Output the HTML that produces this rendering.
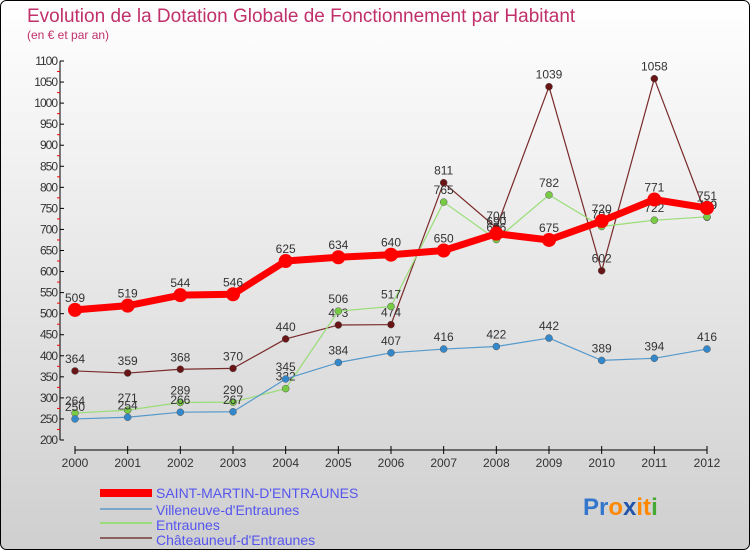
<!DOCTYPE html>
<html><head><meta charset="utf-8"><style>
html,body{margin:0;padding:0;width:750px;height:550px;overflow:hidden;font-family:"Liberation Sans",sans-serif}
</style></head><body>
<svg id="c" width="750" height="550" xmlns="http://www.w3.org/2000/svg">
<defs><linearGradient id="bg" x1="0" y1="0" x2="0" y2="1"><stop offset="0" stop-color="#ffffff"/><stop offset="1" stop-color="#cfcfcf"/></linearGradient></defs>
<rect x="0.5" y="0.5" width="749" height="549" rx="6" fill="url(#bg)" stroke="#000"/>
<text x="27" y="22" font-size="19" fill="#c0306a">Evolution de la Dotation Globale de Fonctionnement par Habitant</text>
<text x="27" y="39" font-size="12" fill="#c0306a">(en € et par an)</text>
<g id="axes"></g><g id="series"></g>
<g>
<rect x="100" y="489" width="52" height="8" fill="#f00"/>
<text x="156" y="498" font-size="14" fill="#5555ee">SAINT-MARTIN-D'ENTRAUNES</text>
<rect x="100" y="508" width="52" height="2" fill="#7aa6cc"/>
<text x="156" y="515" font-size="14" fill="#5555ee">Villeneuve-d'Entraunes</text>
<rect x="100" y="522" width="52" height="2" fill="#99dd77"/>
<text x="156" y="530" font-size="14" fill="#5555ee">Entraunes</text>
<rect x="100" y="537" width="52" height="2" fill="#8b6060"/>
<text x="156" y="545" font-size="14" fill="#5555ee">Châteauneuf-d'Entraunes</text>
</g>
<text x="583" y="515" font-size="24" font-weight="bold"><tspan fill="#3377cc">Pr</tspan><tspan fill="#ff8800">o</tspan><tspan fill="#2255aa">x</tspan><tspan fill="#ff8800">it</tspan><tspan fill="#44aa33">i</tspan></text>
</svg>
<script>
const years=[2000,2001,2002,2003,2004,2005,2006,2007,2008,2009,2010,2011,2012];
const yTicks=[200,250,300,350,400,450,500,550,600,650,700,750,800,850,900,950,1000,1050,1100];
const saintMartin=[509,519,544,546,625,634,640,650,690,675,720,771,751];
const villeneuve=[250,254,266,267,345,384,407,416,422,442,389,394,416];
const entraunes=[264,271,289,290,322,506,517,765,676,782,707,722,730];
const chateauneuf=[364,359,368,370,440,473,474,811,704,1039,602,1058,729];
const NS="http://www.w3.org/2000/svg";
const X=i=>75+i*(707-75)/(years.length-1);
const Y=v=>440-(v-200)*(379/900);
function mk(t,a,p){const e=document.createElementNS(NS,t);for(const k in a)e.setAttribute(k,a[k]);p.appendChild(e);return e;}
const ax=document.getElementById('axes'),sg=document.getElementById('series');
let l=mk('line',{x1:60,y1:Y(1100),x2:60,y2:440,stroke:'#000'},ax);


yTicks.forEach((v,i)=>{
 mk('line',{x1:60,x2:64,y1:Y(v),y2:Y(v),stroke:'#000'},ax);
 if(i<yTicks.length-1)mk('line',{x1:57,x2:60,y1:Y(v+25),y2:Y(v+25),stroke:'#f00'},ax);
 const t=mk('text',{x:57,y:Y(v)+4,'font-size':12,'text-anchor':'end',fill:'#333','letter-spacing':'-1'},ax);t.textContent=v;
 
 
});
l=mk('line',{x1:75,y1:450,x2:707,y2:450,stroke:'#000'},ax);


years.forEach((y,i)=>{
 mk('line',{x1:X(i),x2:X(i),y1:446,y2:454,stroke:'#000'},ax);
 const t=mk('text',{x:X(i),y:467,'font-size':12,'text-anchor':'middle',fill:'#333'},ax);t.textContent=y;
 
 
});
function draw(vals,name,color,w,r,dot){
 const g=mk('g',{},sg);
 
 
 const pl=mk('polyline',{points:vals.map((v,i)=>X(i)+','+Y(v)).join(' '),fill:'none',stroke:color,'stroke-width':w,'stroke-linejoin':'round'},g);
 
 
 vals.forEach((v,i)=>{
  const c=mk('circle',{cx:X(i),cy:Y(v),r:r,fill:dot,stroke:w>3?'none':'#555','stroke-width':0.5},g);
  
  
  const t=mk('text',{x:X(i),y:Y(v)-8,'font-size':12,'text-anchor':'middle',fill:'#333'},g);t.textContent=v;
  
  
 });
}
draw(chateauneuf,'chateauneuf','#7a2a2a',1.2,3.5,'#6a1515');
draw(entraunes,'entraunes','#99dd77',1.2,3.5,'#77cc44');
draw(villeneuve,'villeneuve','#5599cc',1.2,3.5,'#3388cc');
draw(saintMartin,'saint-martin','#ff0000',7,7,'#ff0000');
</script>
</body></html>
